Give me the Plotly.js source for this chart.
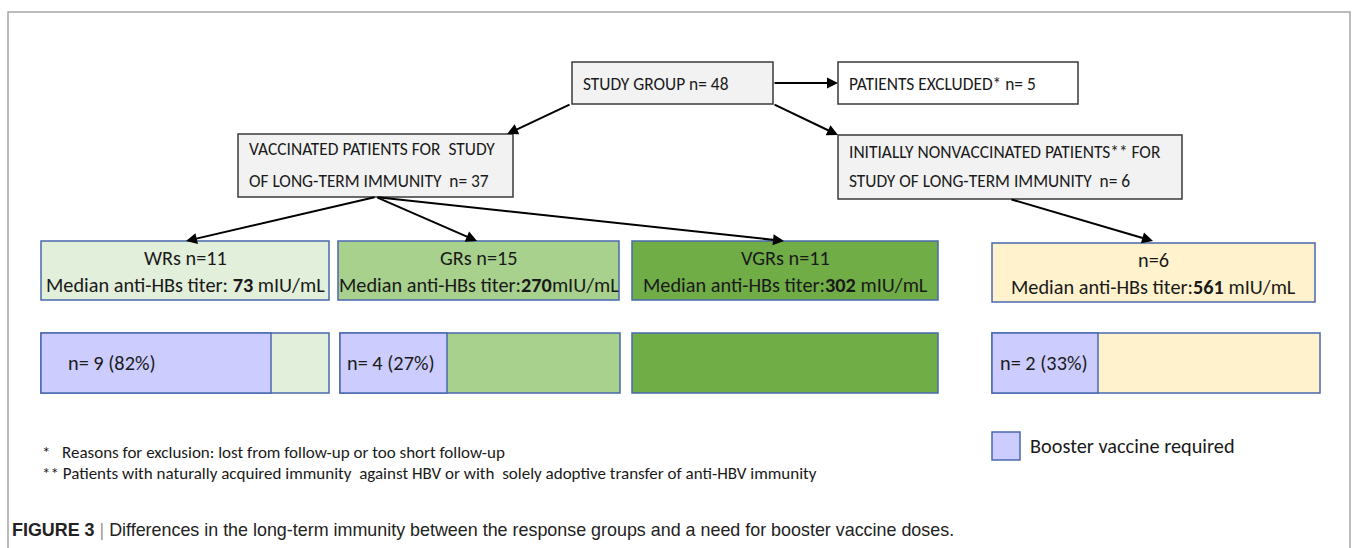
<!DOCTYPE html>
<html>
<head>
<meta charset="utf-8">
<script src="https://cdn.plot.ly/plotly-3.0.1.min.js"></script>
<style>
  html, body { margin: 0; padding: 0; background: #ffffff; }
  #chart { width: 1356px; height: 548px; }
</style>
</head>
<body>
<div id="chart"></div>
<script>
// ---------------- DATA ----------------
const groupNames   = ['WRs', 'GRs', 'VGRs', ''];
const groupN       = [11, 15, 11, 6];
const medianTiter  = [73, 270, 302, 561];
const boosterN     = [9, 4, 0, 2];
const boosterPct   = [82, 27, 0, 33];
const studyN       = 48;
const excludedN    = 5;
const vaccinatedN  = 37;
const nonvaccN     = 6;

// ---------------- GEOMETRY (pixel layout of the flowchart) ----------------
const FONT = 'Calibri, Carlito, Lato, sans-serif';
const rowBoxes = [
  {x0: 41,  x1: 329,  y0: 241, y1: 300, fill: '#e2efda'},
  {x0: 338, x1: 619,  y0: 241, y1: 300, fill: '#a9d18e'},
  {x0: 632, x1: 938,  y0: 241, y1: 300, fill: '#70ad47'},
  {x0: 992, x1: 1315, y0: 243, y1: 302, fill: '#fff2cc'}
];
const barBoxes = [
  {x0: 41,  x1: 329,  split: 271,  textX: 66},
  {x0: 340, x1: 620,  split: 447,  textX: 345},
  {x0: 632, x1: 938,  split: 632,  textX: 640},
  {x0: 992, x1: 1320, split: 1098, textX: 998}
];
const barY0 = 333, barY1 = 393;
const BLUE_EDGE = '#4a68ae';
const PURPLE = '#ccccff';
const DARK = '#3a3a3a';
const S_TOP = 17.4, S_ROW = 20.3, S_NOTE = 17;

const shapes = [];
const annotations = [];

function rect(x0, y0, x1, y1, fill, line, w) {
  shapes.push({type: 'rect', xref: 'x', yref: 'y', x0, y0, x1, y1,
    fillcolor: fill, line: {color: line, width: w || 1.5}, layer: 'above'});
}
function text(x, y, t, size, anchor, color, fam) {
  annotations.push({xref: 'x', yref: 'y', x, y, text: t, showarrow: false,
    xanchor: anchor || 'left', yanchor: 'middle',
    font: {family: fam || FONT, size: size, color: color || '#1a1a1a'}});
}
function arrow(tx, ty, hx, hy) {
  annotations.push({xref: 'x', yref: 'y', axref: 'x', ayref: 'y',
    x: hx, y: hy, ax: tx, ay: ty, text: '', showarrow: true,
    arrowhead: 2, arrowsize: 1.1, arrowwidth: 2, arrowcolor: '#000000',
    standoff: 0, startstandoff: 0});
}

// outer frame (open at the bottom)
shapes.push({type: 'path', xref: 'x', yref: 'y',
  path: 'M 8 560 L 8 12 L 1350 12 L 1350 560',
  line: {color: '#a6a6a6', width: 1.5}});

// top level boxes
rect(572, 62, 773, 104, '#f2f2f2', DARK);
text(581, 84, 'STUDY GROUP n= ' + studyN, S_TOP);
rect(838, 62, 1078, 104, '#ffffff', DARK);
text(847, 84, 'PATIENTS EXCLUDED* n= ' + excludedN, S_TOP);

rect(238, 134, 513, 197, '#f2f2f2', DARK);
text(247, 149, 'VACCINATED PATIENTS FOR&nbsp; STUDY', S_TOP);
text(247, 181, 'OF LONG-TERM IMMUNITY&nbsp; n= ' + vaccinatedN, S_TOP);

rect(838, 135, 1182, 199, '#f2f2f2', DARK);
text(847, 152, 'INITIALLY NONVACCINATED PATIENTS** FOR', S_TOP);
text(847, 181, 'STUDY OF LONG-TERM IMMUNITY&nbsp; n= ' + nonvaccN, S_TOP);

// arrows
arrow(773, 83, 838, 83);
arrow(571, 104, 507, 134);
arrow(773, 104, 838, 135);
arrow(376, 197, 186, 241);
arrow(376, 197, 477, 241);
arrow(376, 197, 784, 241);
arrow(1010, 199, 1153, 241);

// response group boxes
const titerSep = [': ', ':', ':', ':'];
const titerAfter = [' mIU/mL', 'mIU/mL', ' mIU/mL', ' mIU/mL'];
rowBoxes.forEach((b, i) => {
  rect(b.x0, b.y0, b.x1, b.y1, b.fill, BLUE_EDGE);
  const cx = (b.x0 + b.x1) / 2;
  const head = (groupNames[i] ? groupNames[i] + ' ' : '') + 'n=' + groupN[i];
  text(cx, b.y0 + 17, head, S_ROW, 'center');
  text(cx, b.y0 + 44, 'Median anti-HBs titer' + titerSep[i] + '<b>' + medianTiter[i] + '</b>' + titerAfter[i], S_ROW, 'center');
});

// booster bars
barBoxes.forEach((b, i) => {
  rect(b.x0, barY0, b.x1, barY1, rowBoxes[i].fill, BLUE_EDGE);
  if (boosterN[i] > 0) {
    rect(b.x0, barY0, b.split, barY1, PURPLE, BLUE_EDGE);
    text(b.textX, (barY0 + barY1) / 2, 'n= ' + boosterN[i] + ' (' + boosterPct[i] + '%)', S_ROW);
  }
});

// footnotes
text(40, 452, '*&nbsp;&nbsp; Reasons for exclusion: lost from follow-up or too short follow-up', S_NOTE);
text(40, 473, '** Patients with naturally acquired immunity&nbsp; against HBV or with&nbsp; solely adoptive transfer of anti-HBV immunity', S_NOTE);

// legend
rect(992, 432, 1020, 460, PURPLE, BLUE_EDGE);
text(1028, 446, 'Booster vaccine required', S_ROW);

// caption
text(10, 530, '<b>FIGURE 3</b> <span style="color:#9a9a9a">|</span> Differences in the long-term immunity between the response groups and a need for booster vaccine doses.', 17.9, 'left', '#222222', '"Liberation Sans", Arial, sans-serif');

const layout = {
  width: 1356, height: 548,
  margin: {l: 0, r: 0, t: 0, b: 0},
  paper_bgcolor: '#ffffff', plot_bgcolor: '#ffffff',
  showlegend: false,
  xaxis: {range: [0, 1356], visible: false, fixedrange: true},
  yaxis: {range: [548, 0], visible: false, fixedrange: true},
  shapes, annotations
};

Plotly.newPlot('chart', [], layout, {staticPlot: true, displayModeBar: false});
</script>
</body>
</html>
